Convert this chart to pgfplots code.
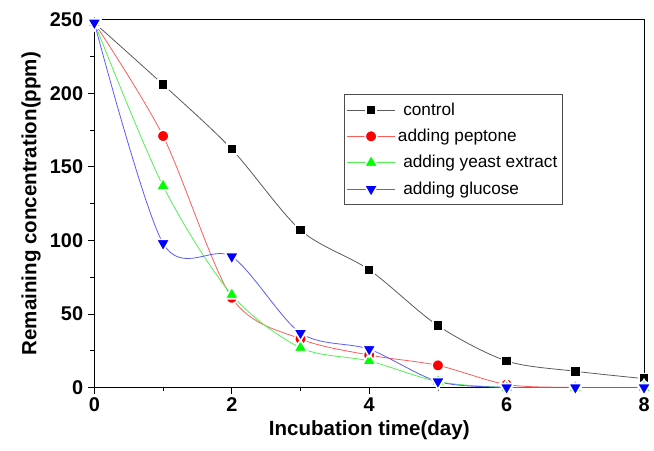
\documentclass[border=0pt]{standalone}
\usepackage{fontspec}
\setmainfont{Liberation Sans}
\usepackage{pgfplots}
\pgfplotsset{compat=1.18}

\definecolor{ctrlline}{RGB}{90,90,90}
\definecolor{peptline}{RGB}{255,90,90}
\definecolor{yeastline}{RGB}{80,240,80}
\definecolor{glucline}{RGB}{90,90,255}

\begin{document}
\begin{tikzpicture}
\begin{axis}[
    name=ax,
    scale only axis,
    width=415pt, height=277.5pt,
    xmin=0, xmax=8, ymin=0, ymax=250,
    xtick={0,2,4,6,8},
    minor xtick={1,3,5,7},
    ytick={0,50,100,150,200,250},
    minor ytick={25,75,125,175,225},
    tick align=outside,
    tick pos=left,
    major tick length=5pt,
    minor tick length=3pt,
    tick style={black, line width=0.6pt},
    axis line style={line width=0.8pt},
    /pgf/number format/assume math mode=true,
    tick label style={font=\fontsize{15}{17}\selectfont\bfseries},
    xticklabel style={yshift=1pt},
    xlabel={Incubation time(day)},
    ylabel={Remaining concentration(ppm)},
    label style={font=\fontsize{15.5}{18}\selectfont\bfseries},
    xlabel style={yshift=0pt},
    clip=true,
    legend cell align=left,
    legend style={at={(0.454,0.797)}, anchor=north west,
        font=\fontsize{13}{15}\selectfont, draw=black!70,
        row sep=5pt, inner xsep=2pt, inner ysep=4pt},
    legend image code/.code={
        \draw[#1] (0pt,0pt) -- (36pt,0pt);
        \draw[#1, only marks] plot coordinates {(18pt,0pt)};
    },
]
\addplot[ctrlline, line width=0.6pt, smooth, tension=0.5,
    mark=square*, mark size=3.8pt,
    mark options={fill=black, draw=white, line width=1.2pt, solid}]
    coordinates {(0,248) (1,206) (2,162) (3,107) (4,80) (5,42) (6,18) (7,11) (8,6)};
\addlegendentry{\hspace{4pt}control}
\addplot[peptline, line width=0.6pt, smooth, tension=0.5,
    mark=*, mark size=4.4pt,
    mark options={fill=red, draw=white, line width=1.2pt, solid}]
    coordinates {(0,248) (1,171) (2,61) (3,33) (4,22) (5,15) (6,2) (7,0) (8,0)};
\addlegendentry{adding peptone}
\addplot[yeastline, line width=0.6pt, smooth, tension=0.5,
    mark=triangle*, mark size=6pt,
    mark options={fill=green, draw=white, line width=1.2pt, solid}]
    coordinates {(0,248) (1,137) (2,63) (3,27) (4,18) (5,4) (6,0) (7,0) (8,0)};
\addlegendentry{\hspace{4pt}adding yeast extract}
\addplot[glucline, line width=0.6pt, smooth, tension=0.5,
    mark=triangle*, mark size=6pt,
    mark options={fill=blue, draw=white, line width=1.2pt, solid, rotate=180}]
    coordinates {(0,248) (1,98) (2,89) (3,37) (4,26) (5,4) (6,0) (7,0) (8,0)};
\addlegendentry{\hspace{4pt}adding glucose}
\end{axis}
\path (ax.south west) ++(-71.25pt,-47.25pt) coordinate (bbl);
\path (ax.north east) ++(4.5pt,15pt) coordinate (bbr);
\useasboundingbox (bbl) rectangle (bbr);
\end{tikzpicture}
\end{document}
